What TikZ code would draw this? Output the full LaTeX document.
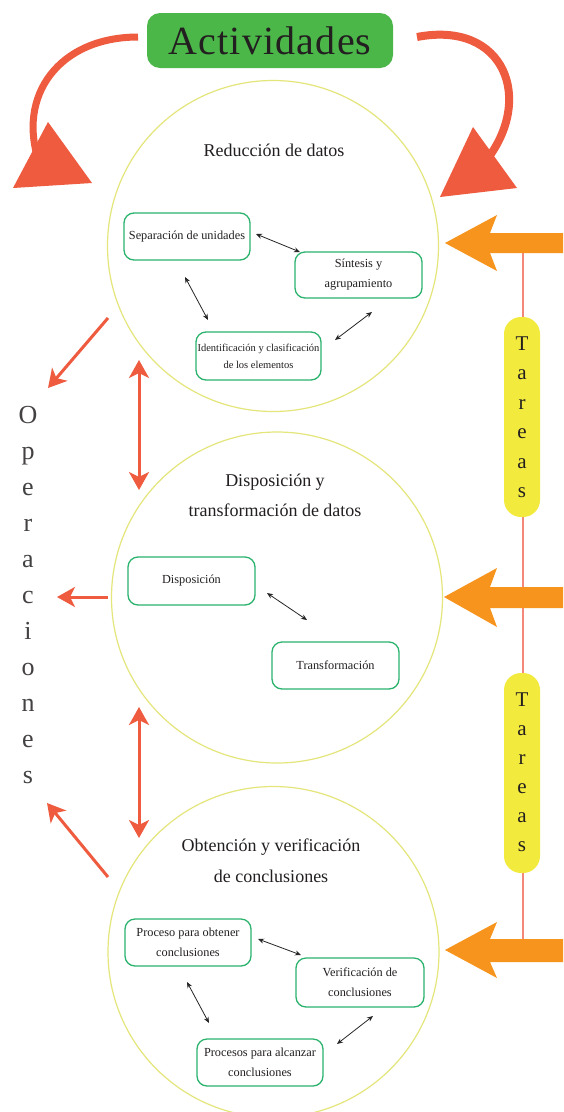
\documentclass[tikz,border=0pt]{standalone}
\usepackage{fontspec}
\setmainfont{Liberation Serif}
\usetikzlibrary{arrows.meta}
\definecolor{redA}{HTML}{EE5B3F}
\definecolor{orangeA}{HTML}{F7941D}
\definecolor{yellowA}{HTML}{F2EA3C}
\definecolor{greenA}{HTML}{4BB748}
\definecolor{circA}{HTML}{E4E57A}
\definecolor{boxA}{HTML}{2BB36E}
\definecolor{pinkA}{HTML}{F2877A}
\definecolor{txtA}{HTML}{231F20}
\begin{document}
\begin{tikzpicture}[x=1pt,y=-1pt,
  circ/.style={circle,draw=circA,line width=1.2pt,minimum size=331pt,inner sep=0pt},
  ttl/.style={font=\fontsize{18}{30}\selectfont,align=center,text=txtA,inner sep=0pt},
  inbox/.style={draw=boxA,line width=1.3pt,rounded corners=10pt,minimum width=126pt,minimum height=47pt,align=center,font=\fontsize{12.3}{20}\selectfont,inner sep=1pt,text=txtA},
  twoway/.style={{Stealth[length=6pt,width=5pt]}-{Stealth[length=6pt,width=5pt]},line width=0.8pt,black!85},
  redarrow/.style={redA,line width=3pt,-{Stealth[length=18pt,width=20pt,inset=5pt]}},
  reddouble/.style={redA,line width=3pt,{Stealth[length=18pt,width=20pt,inset=5pt]}-{Stealth[length=18pt,width=20pt,inset=5pt]}},
  pill/.style={fill=yellowA,rounded corners=17pt,minimum width=36pt,minimum height=200pt,inner sep=0pt},
  pilltxt/.style={font=\fontsize{21}{21}\selectfont,text=txtA,inner sep=0pt,anchor=base},
  optxt/.style={font=\fontsize{26}{26}\selectfont,text=txtA!85,inner sep=0pt,anchor=base}
]
\useasboundingbox (0,0) rectangle (563,1112);
\fill[white] (0,0) rectangle (563,1112);

% circles
\node[circ] (c1) at (273,246) {};
\node[circ] (c2) at (277,597.5) {};
\node[circ] (c3) at (273.5,952) {};

% Actividades
\node[fill=greenA,rounded corners=13pt,minimum width=246pt,minimum height=55pt,inner sep=0pt,
      font=\fontsize{40}{40}\selectfont\addfontfeature{LetterSpace=3},text=txtA] (act) at (270,40.5) {Actividades};

% big curved red arrows
\draw[redA,line width=7pt] (138,37) .. controls (60,37) and (15,95) .. (40,165);
\fill[redA] (48,122) -- (13,188) -- (92,183) -- cycle;
\draw[redA,line width=8pt] (417,37) .. controls (505,20) and (535,100) .. (485,162);
\fill[redA] (473,127) -- (517,188) -- (440,197) -- cycle;

% pink vertical line and Tareas pills
\draw[pinkA,line width=2pt] (523,253) -- (523,950);
\node[pill] (p1) at (522,417) {};
\node[pill] (p2) at (522,773) {};
\foreach \l [count=\i] in {T,a,r,e,a,s}
  \node[pilltxt] (ta\i) at (522,320.5+29.5*\i) {\l};
\foreach \l [count=\i] in {T,a,r,e,a,s}
  \node[pilltxt] (tb\i) at (522,677.5+29*\i) {\l};

% orange arrows
\fill[orangeA] (563,233) -- (490,233) -- (497,215) -- (445,243) -- (497,271) -- (490,253) -- (563,253) -- cycle;
\fill[orangeA] (563,587) -- (490,587) -- (497,568) -- (444,597) -- (497,627) -- (490,608) -- (563,608) -- cycle;
\fill[orangeA] (563,939) -- (490,939) -- (497,922) -- (445,950) -- (497,978) -- (490,962) -- (563,962) -- cycle;

% Operaciones
\foreach \l [count=\i] in {O,p,e,r,a,c,i,o,n,e,s}
  \node[optxt] (op\i) at (28,387.5+36*\i) {\l};

% red thin arrows
\coordinate (a1s) at (108,318); \coordinate (a1e) at (48,388);
\coordinate (a2s) at (108,597); \coordinate (a2e) at (57,597);
\coordinate (a3s) at (108,877); \coordinate (a3e) at (47,803);
\coordinate (d1s) at (139,360); \coordinate (d1e) at (139,490);
\coordinate (d2s) at (139,707); \coordinate (d2e) at (139,838);
\draw[redarrow] (a1s) -- (a1e);
\draw[redarrow] (a2s) -- (a2e);
\draw[redarrow] (a3s) -- (a3e);
\draw[reddouble] (d1s) -- (d1e);
\draw[reddouble] (d2s) -- (d2e);

% circle 1
\node[ttl] (t1) at (274,150) {Reducción de datos};
\node[inbox] (sep) at (187,236.5) {Separación de unidades};
\node[inbox,minimum width=127pt,minimum height=46pt] (sin) at (358.5,275) {Síntesis y\\agrupamiento};
\node[inbox,minimum width=125pt,minimum height=48pt,font=\fontsize{10.5}{17}\selectfont] (ide) at (258.5,356) {Identificación y clasificación\\de los elementos};
\coordinate (k1a) at (256,234); \coordinate (k1b) at (300,252);
\coordinate (k2a) at (185,277); \coordinate (k2b) at (208,320);
\coordinate (k3a) at (372,312); \coordinate (k3b) at (335,340);
\draw[twoway] (k1a) -- (k1b);
\draw[twoway] (k2a) -- (k2b);
\draw[twoway] (k3a) -- (k3b);

% circle 2
\node[ttl] (t2) at (275,495) {Disposición y\\transformación de datos};
\node[inbox,minimum width=127pt,minimum height=48pt] (dis) at (191.5,581) {Disposición};
\node[inbox,minimum width=127pt] (tra) at (335.5,665.5) {Transformación};
\coordinate (k4a) at (267,593); \coordinate (k4b) at (307,620);
\draw[twoway] (k4a) -- (k4b);

% circle 3
\node[ttl,font=\fontsize{18}{31}\selectfont] (t3) at (271,860.5) {Obtención y verificación\\de conclusiones};
\node[inbox] (pro) at (188,942.5) {Proceso para obtener\\conclusiones};
\node[inbox,minimum width=128pt,minimum height=49pt] (ver) at (360,982.5) {Verificación de\\conclusiones};
\node[inbox] (alc) at (260,1062.5) {Procesos para alcanzar\\conclusiones};
\coordinate (k5a) at (258,939); \coordinate (k5b) at (301,955);
\coordinate (k6a) at (187,982); \coordinate (k6b) at (209,1023);
\coordinate (k7a) at (373,1016); \coordinate (k7b) at (337,1044);
\draw[twoway] (k5a) -- (k5b);
\draw[twoway] (k6a) -- (k6b);
\draw[twoway] (k7a) -- (k7b);
\end{tikzpicture}
\end{document}
